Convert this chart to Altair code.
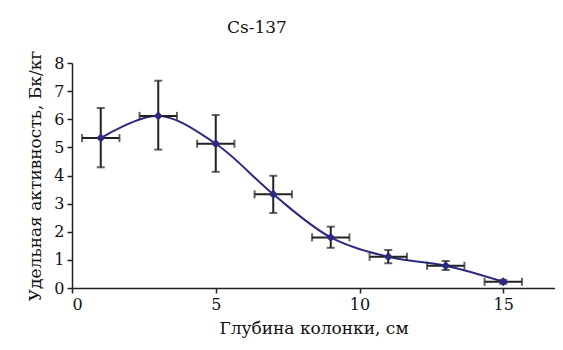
import altair as alt
import pandas as pd

depth = [1, 3, 5, 7, 9, 11, 13, 15]
activity = [5.33, 6.12, 5.13, 3.33, 1.80, 1.11, 0.79, 0.22]
act_low = [4.29, 4.92, 4.13, 2.67, 1.43, 0.88, 0.64, 0.15]
act_high = [6.40, 7.37, 6.15, 3.99, 2.18, 1.35, 0.96, 0.29]
depth_err = [0.65, 0.65, 0.65, 0.65, 0.65, 0.65, 0.65, 0.65]
x_ticks = [0, 5, 10, 15]
y_ticks = [0, 1, 2, 3, 4, 5, 6, 7, 8]

df = pd.DataFrame({
    "x": depth,
    "y": activity,
    "ylo": act_low,
    "yhi": act_high,
    "xlo": [d - e for d, e in zip(depth, depth_err)],
    "xhi": [d + e for d, e in zip(depth, depth_err)],
})

FONT = "DejaVu Serif"
NAVY = "#2b2a80"
INK = "#222222"

xs = alt.Scale(domain=[0, 16.8], nice=False, zero=False)
ys = alt.Scale(domain=[0, 8], nice=False)

axis_common = dict(grid=False, labelOverlap=False, labelFont=FONT, titleFont=FONT,
                   labelFontSize=16, titleFontSize=17, titleFontWeight="normal",
                   labelColor="#111111", titleColor="#111111", domainColor=INK,
                   tickColor=INK, domainWidth=1.5, tickWidth=1.5, tickSize=5,
                   labelPadding=3)
xaxis = alt.Axis(values=x_ticks, title="Глубина колонки, см", titlePadding=8, **axis_common)
yaxis = alt.Axis(values=y_ticks, title="Удельная активность, Бк/кг", titlePadding=9, **axis_common)

X = lambda f: alt.X(f, type="quantitative", scale=xs, axis=xaxis, title="Глубина колонки, см")
Y = lambda f: alt.Y(f, type="quantitative", scale=ys, axis=yaxis, title="Удельная активность, Бк/кг")

base = alt.Chart(df)

line = base.mark_line(interpolate="catmull-rom", color=NAVY, strokeWidth=2).encode(
    x=X("x"), y=Y("y"),
)

vbar = base.mark_errorbar(ticks={"size": 8, "thickness": 2, "color": INK},
                          rule={"strokeWidth": 2, "color": INK}).encode(
    x=X("x"), y=Y("ylo"), y2="yhi:Q",
)

hbar = base.mark_errorbar(ticks={"size": 8, "thickness": 2, "color": INK},
                          rule={"strokeWidth": 2, "color": INK}).encode(
    y=Y("y"), x=X("xlo"), x2="xhi:Q",
)

pts = base.mark_point(shape="diamond", filled=True, size=80, color=NAVY, opacity=1).encode(
    x=X("x"), y=Y("y"),
)

chart = alt.layer(line, vbar, hbar, pts).properties(
    width=483,
    height=225,
    title=alt.TitleParams("Cs-137", anchor="start", frame="group", dx=155, offset=13,
                          font=FONT, fontSize=17, fontWeight="normal", color="#111111"),
    autosize=alt.AutoSizeParams(type="none"),
    padding={"left": 64, "top": 55, "right": 0, "bottom": 50},
).configure_view(stroke=None)

chart.save("out.html", embed_options={"renderer": "svg", "actions": False})
